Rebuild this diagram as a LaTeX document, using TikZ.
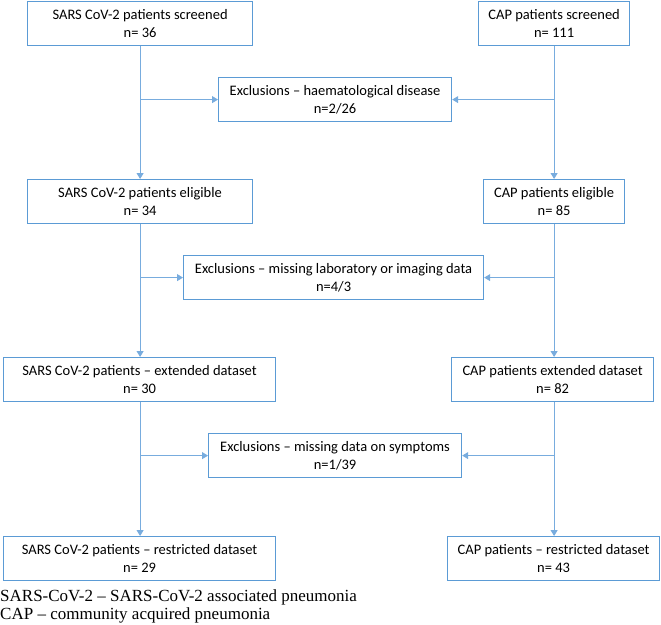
\documentclass[tikz,border=0pt]{standalone}
\usepackage{fontspec}
\setmainfont{Carlito}
\newfontfamily\serifnote{Liberation Serif}
\usetikzlibrary{arrows.meta}
\definecolor{boxblue}{RGB}{91,155,213}
\definecolor{lineblue}{RGB}{120,172,222}
\begin{document}
\begin{tikzpicture}[x=1pt,y=-1pt,
  box/.style={draw=boxblue, line width=1.2pt, align=center, inner sep=0pt,
    font=\fontsize{14.5}{18}\selectfont, anchor=north west, minimum height=44pt},
  conn/.style={draw=lineblue, line width=0.9pt},
  arr/.style={conn, -{Triangle[length=6pt,width=7pt]}},
  note/.style={anchor=base west, inner sep=0pt, font=\serifnote\fontsize{17}{18}\selectfont}]
\useasboundingbox (0,0) rectangle (661,624);
% left column
\node[box, minimum width=225pt] (s1) at (27,1) {SARS CoV-2 patients screened\\n= 36};
\node[box, minimum width=225pt] (s2) at (27,179) {SARS CoV-2 patients eligible\\n= 34};
\node[box, minimum width=272pt] (s3) at (3,357) {SARS CoV-2 patients – extended dataset\\n= 30};
\node[box, minimum width=272pt] (s4) at (3,536) {SARS CoV-2 patients – restricted dataset\\n= 29};
% right column
\node[box, minimum width=151pt] (c1) at (478,1) {CAP patients screened\\n= 111};
\node[box, minimum width=141pt] (c2) at (483,179) {CAP patients eligible\\n= 85};
\node[box, minimum width=202pt] (c3) at (451,357) {CAP patients extended dataset\\n= 82};
\node[box, minimum width=212pt] (c4) at (447,536) {CAP patients – restricted dataset\\n= 43};
% exclusions
\node[box, minimum width=233pt] (e1) at (218,77) {Exclusions – haematological disease\\n=2/26};
\node[box, minimum width=300pt] (e2) at (183,255) {Exclusions – missing laboratory or imaging data\\n=4/3};
\node[box, minimum width=253pt] (e3) at (208,433) {Exclusions – missing data on symptoms\\n=1/39};
% connectors left
\draw[arr] (s1.south) -- (s2.north);
\draw[arr] (s2.south) -- (s3.north -| s2.south);
\draw[arr] (s3.south -| s2.south) -- (s4.north -| s2.south);
\draw[arr] (s1.south |- e1.west) -- (e1.west);
\draw[arr] (s1.south |- e2.west) -- (e2.west);
\draw[arr] (s1.south |- e3.west) -- (e3.west);
% connectors right
\draw[arr] (c1.south) -- (c2.north);
\draw[arr] (c2.south) -- (c3.north -| c2.south);
\draw[arr] (c3.south -| c2.south) -- (c4.north -| c2.south);
\draw[arr] (c1.south |- e1.east) -- (e1.east);
\draw[arr] (c1.south |- e2.east) -- (e2.east);
\draw[arr] (c1.south |- e3.east) -- (e3.east);
% footnote
\node[note] (n1) at (0,601) {SARS-CoV-2 – SARS-CoV-2 associated pneumonia};
\node[note] (n2) at (0,619) {CAP – community acquired pneumonia};
\end{tikzpicture}
\end{document}
